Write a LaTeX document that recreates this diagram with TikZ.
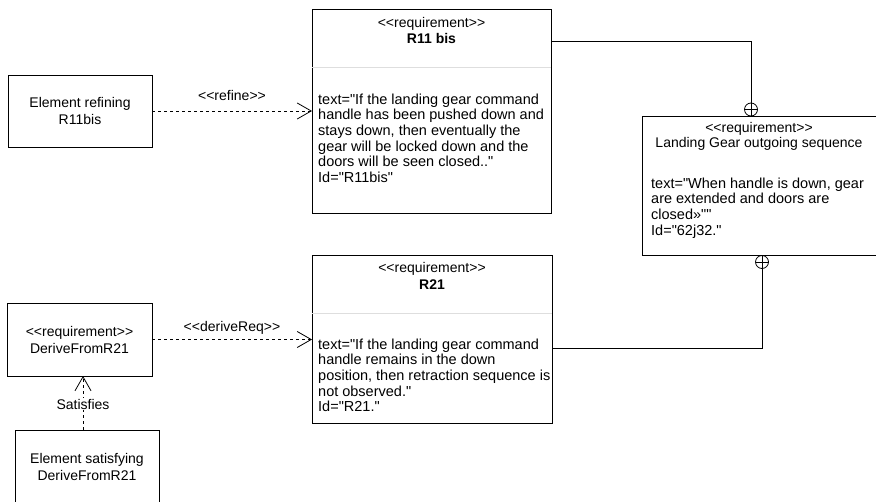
\documentclass[tikz,border=0pt]{standalone}
\usepackage{fontspec}
\newfontfamily\uifont{Liberation Sans}
\usetikzlibrary{arrows.meta,calc}
\begin{document}
\begin{tikzpicture}[x=1pt,y=-1pt,
  box/.style={draw=black, line width=0.8pt, inner sep=0pt, outer sep=0pt, anchor=north west},
  txt/.style={font=\uifont\fontsize{14}{17}\selectfont, inner sep=0pt, align=center},
  head/.style={font=\uifont\fontsize{14}{15.6}\selectfont, inner sep=0pt, anchor=base},
  body/.style={font=\uifont\fontsize{14.5}{15.6}\selectfont, inner sep=0pt, align=left, anchor=north west},
  sepline/.style={draw=black!13, line width=0.8pt},
  dep/.style={line width=0.8pt, dash pattern=on 3pt off 3pt, -{Straight Barb[length=14pt,width=16pt,line width=0.8pt]}},
  conn/.style={line width=0.8pt},
  plus/.style={circle, draw, line width=0.8pt, minimum size=13pt, inner sep=0pt, outer sep=0pt},
  lbl/.style={font=\uifont\fontsize{14}{16}\selectfont, inner sep=1pt}
]
\useasboundingbox (0,0) rectangle (876,502);

% simple boxes
\node[box, txt, minimum width=144pt, minimum height=72pt] (er) at (8,75) {Element refining\\R11bis};
\node[box, txt, minimum width=145pt, minimum height=73pt] (dr) at (7,303) {<{}<requirement>{}>\\DeriveFromR21};
\node[box, txt, minimum width=144pt, minimum height=73pt] (es) at (15,430) {Element satisfying\\DeriveFromR21};

% R11 bis
\node[box, minimum width=239pt, minimum height=204pt] (r11) at (312,9) {};
\draw[sepline] ([yshift=-58pt]r11.north west) -- ([yshift=-58pt]r11.north east);
\node[head] (r11h) at ([yshift=-19pt]r11.north) {<{}<requirement>{}>};
\node[head, font=\uifont\bfseries\fontsize{14}{15.6}\selectfont] (r11n) at ([yshift=-35pt]r11.north) {R11 bis};
\node[body] (r11b) at (318,93.5) {text="If the landing gear command\\handle has been pushed down and\\stays down, then eventually the\\gear will be locked down and the\\doors will be seen closed.."\\Id="R11bis"};

% R21
\node[box, minimum width=240pt, minimum height=168pt] (r21) at (312,255) {};
\draw[sepline] ([yshift=-58pt]r21.north west) -- ([yshift=-58pt]r21.north east);
\node[head] (r21h) at ([yshift=-18pt]r21.north) {<{}<requirement>{}>};
\node[head, font=\uifont\bfseries\fontsize{14}{15.6}\selectfont] (r21n) at ([yshift=-35pt]r21.north) {R21};
\node[body] (r21b) at (318,338.5) {text="If the landing gear command\\handle remains in the down\\position, then retraction sequence is\\not observed."\\Id="R21."};

% Landing gear
\node[box, minimum width=234pt, minimum height=139.5pt] (lg) at (642,116) {};
\node[head] (lgh) at ([yshift=-17pt]lg.north) {<{}<requirement>{}>};
\node[head] (lgn) at ([yshift=-32pt]lg.north) {Landing Gear outgoing sequence};
\node[body] (lgb) at (651,177.5) {text="When handle is down, gear\\are extended and doors are\\closed»""\\Id="62j32."};

% containment circles
\node[plus] (c1) at (751,109.5) {};
\draw[conn] (c1.north) -- (c1.south) (c1.west) -- (c1.east);
\node[plus] (c2) at (762,262) {};
\draw[conn] (c2.north) -- (c2.south) (c2.west) -- (c2.east);
\draw[conn] ([yshift=-32pt]r11.north east) -| (c1.north);
\draw[conn] (c2.south) |- ([yshift=-9pt]r21.east);

% dependencies
\draw[dep] (er.east) -- (er.east -| r11.west);
\node[lbl] (lref) at ([yshift=16pt]$(er.east)!0.5!(er.east -| r11.west)$) {<{}<refine>{}>};
\draw[dep] (dr.east) -- (dr.east -| r21.west);
\node[lbl] (lder) at ([yshift=12pt]$(dr.east)!0.5!(dr.east -| r21.west)$) {<{}<deriveReq>{}>};
\draw[dep] ([xshift=-4pt]es.north) -- ([xshift=-4pt]es.north |- dr.south) node[lbl, pos=0.48, fill=white] (lsat) {Satisfies};
\end{tikzpicture}
\end{document}
